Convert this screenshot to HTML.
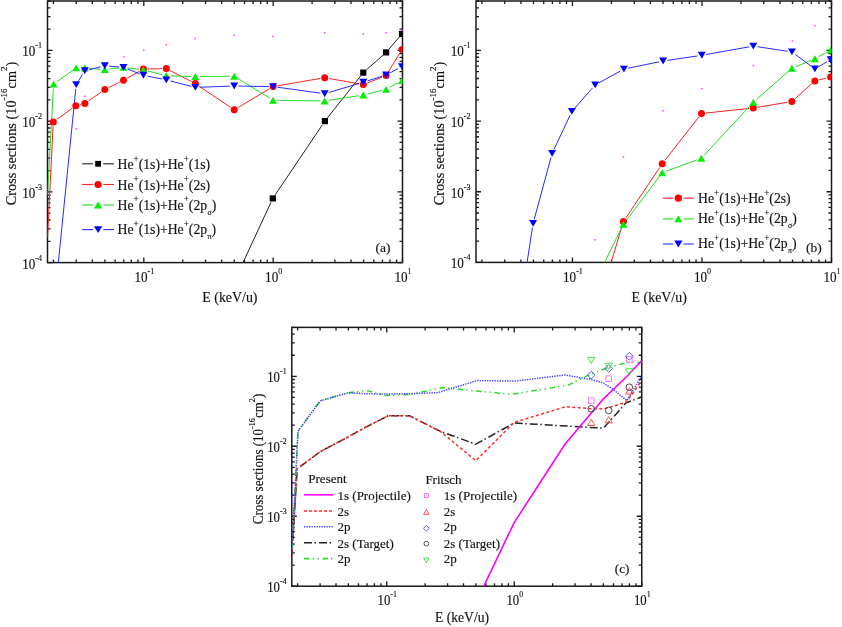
<!DOCTYPE html>
<html><head><meta charset="utf-8"><style>
html,body{margin:0;padding:0;background:#fff;width:842px;height:627px;overflow:hidden}
svg{display:block}
text{font-family:"Liberation Serif",serif;stroke:#111;stroke-width:0.15px}
svg{filter:blur(0.35px)}
</style></head><body>
<svg width="842" height="627" viewBox="0 0 842 627" font-family='"Liberation Serif", serif' fill="#111">
<rect width="842" height="627" fill="#fff"/>
<defs>
<clipPath id="ca"><rect x="47.5" y="1" width="355" height="261.6"/></clipPath>
<clipPath id="cb"><rect x="476" y="1" width="355.5" height="261.4"/></clipPath>
<clipPath id="cc"><rect x="291.8" y="327.4" width="349.95" height="258.8"/></clipPath>
</defs>
<rect x="47.5" y="1" width="355" height="261.6" fill="none" stroke="#1a1a1a" stroke-width="1.5"/>
<path d="M53.42 262.6v-3M53.42 1v3M76.19 262.6v-3M76.19 1v3M92.35 262.6v-3M92.35 1v3M104.89 262.6v-3M104.89 1v3M115.13 262.6v-3M115.13 1v3M123.79 262.6v-3M123.79 1v3M131.29 262.6v-3M131.29 1v3M137.9 262.6v-3M137.9 1v3M143.82 262.6v-5M143.82 1v5M182.76 262.6v-3M182.76 1v3M205.53 262.6v-3M205.53 1v3M221.69 262.6v-3M221.69 1v3M234.23 262.6v-3M234.23 1v3M244.47 262.6v-3M244.47 1v3M253.13 262.6v-3M253.13 1v3M260.63 262.6v-3M260.63 1v3M267.24 262.6v-3M267.24 1v3M273.16 262.6v-5M273.16 1v5M312.1 262.6v-3M312.1 1v3M334.87 262.6v-3M334.87 1v3M351.03 262.6v-3M351.03 1v3M363.57 262.6v-3M363.57 1v3M373.81 262.6v-3M373.81 1v3M382.47 262.6v-3M382.47 1v3M389.97 262.6v-3M389.97 1v3M396.58 262.6v-3M396.58 1v3M402.5 262.6v-5M402.5 1v5M47.5 262.6h5M402.5 262.6h-5M47.5 241.31h3M402.5 241.31h-3M47.5 228.86h3M402.5 228.86h-3M47.5 220.02h3M402.5 220.02h-3M47.5 213.17h3M402.5 213.17h-3M47.5 207.57h3M402.5 207.57h-3M47.5 202.83h3M402.5 202.83h-3M47.5 198.73h3M402.5 198.73h-3M47.5 195.11h3M402.5 195.11h-3M47.5 191.88h5M402.5 191.88h-5M47.5 170.59h3M402.5 170.59h-3M47.5 158.13h3M402.5 158.13h-3M47.5 149.3h3M402.5 149.3h-3M47.5 142.44h3M402.5 142.44h-3M47.5 136.84h3M402.5 136.84h-3M47.5 132.11h3M402.5 132.11h-3M47.5 128.01h3M402.5 128.01h-3M47.5 124.39h3M402.5 124.39h-3M47.5 121.16h5M402.5 121.16h-5M47.5 99.87h3M402.5 99.87h-3M47.5 87.41h3M402.5 87.41h-3M47.5 78.58h3M402.5 78.58h-3M47.5 71.72h3M402.5 71.72h-3M47.5 66.12h3M402.5 66.12h-3M47.5 61.39h3M402.5 61.39h-3M47.5 57.29h3M402.5 57.29h-3M47.5 53.67h3M402.5 53.67h-3M47.5 50.43h5M402.5 50.43h-5M47.5 29.14h3M402.5 29.14h-3M47.5 16.69h3M402.5 16.69h-3M47.5 7.85h3M402.5 7.85h-3M47.5 1h3M402.5 1h-3" stroke="#1a1a1a" stroke-width="1.3" fill="none"/>
<text transform="translate(144.32 282.1) scale(0.9 1)" text-anchor="middle" font-size="14.6">10<tspan font-size="9.0" dy="-8">-1</tspan></text>
<text transform="translate(273.66 282.1) scale(0.9 1)" text-anchor="middle" font-size="14.6">10<tspan font-size="9.0" dy="-8">0</tspan></text>
<text transform="translate(403 282.1) scale(0.9 1)" text-anchor="middle" font-size="14.6">10<tspan font-size="9.0" dy="-8">1</tspan></text>
<text transform="translate(42.1 268.6) scale(0.9 1)" text-anchor="end" font-size="14.6">10<tspan font-size="9.0" dy="-8">-4</tspan></text>
<text transform="translate(42.1 197.88) scale(0.9 1)" text-anchor="end" font-size="14.6">10<tspan font-size="9.0" dy="-8">-3</tspan></text>
<text transform="translate(42.1 127.16) scale(0.9 1)" text-anchor="end" font-size="14.6">10<tspan font-size="9.0" dy="-8">-2</tspan></text>
<text transform="translate(42.1 56.43) scale(0.9 1)" text-anchor="end" font-size="14.6">10<tspan font-size="9.0" dy="-8">-1</tspan></text>
<text x="229.9" y="302" text-anchor="middle" font-size="13.9">E (keV/u)</text>
<text transform="translate(15.6 133.5) rotate(-90) scale(1.0 1)" x="0" y="0" text-anchor="middle" font-size="14.3">Cross sections (10<tspan font-size="9.0" dy="-8.5">-16</tspan><tspan dy="8.5">cm</tspan><tspan font-size="9.0" dy="-8.5">2</tspan><tspan dy="8.5">)</tspan></text>
<rect x="75.5" y="128.2" width="1.6" height="1.6" fill="#ff33ff" opacity="0.85"/>
<rect x="83.9" y="95.5" width="1.6" height="1.6" fill="#ff33ff" opacity="0.85"/>
<rect x="123" y="55.9" width="1.6" height="1.6" fill="#ff33ff" opacity="0.85"/>
<rect x="142.9" y="49.3" width="1.6" height="1.6" fill="#ff33ff" opacity="0.85"/>
<rect x="165.5" y="44" width="1.6" height="1.6" fill="#ff33ff" opacity="0.85"/>
<rect x="194.4" y="37.7" width="1.6" height="1.6" fill="#ff33ff" opacity="0.85"/>
<rect x="233.4" y="34.4" width="1.6" height="1.6" fill="#ff33ff" opacity="0.85"/>
<rect x="272.3" y="35.6" width="1.6" height="1.6" fill="#ff33ff" opacity="0.85"/>
<rect x="323.9" y="32" width="1.6" height="1.6" fill="#ff33ff" opacity="0.85"/>
<rect x="362.5" y="33.2" width="1.6" height="1.6" fill="#ff33ff" opacity="0.85"/>
<rect x="385.3" y="32" width="1.6" height="1.6" fill="#ff33ff" opacity="0.85"/>
<rect x="401.2" y="29.6" width="1.6" height="1.6" fill="#ff33ff" opacity="0.85"/>
<path d="M234 282L270.99 202.3M275.2 194.83L322.5 124.67M327.57 117.73L360.63 75.97M366.52 69.75L382.88 55.25M388.91 49.15L399.19 37.25" fill="none" stroke="#222222" stroke-width="1.0" clip-path="url(#ca)"/>
<path d="M47.5 237L53.08 126.29M56.78 119.48L72.32 108.22M79.98 104.68L80.62 104.52M88.33 101.05L101.27 92.05M108.64 87.67L119.66 82.13M127.26 78.11L139.64 71.19M147.7 69.01L162 68.69M170.12 70.58L191.48 81.62M198.87 86L230.63 107.4M237.89 107.6L269.41 88.8M277.34 85.87L320.46 78.43M328.93 78.46L359.07 83.84M367.29 83.01L382.11 77.09M388.34 71.83L399.76 53.17" fill="none" stroke="#ff2020" stroke-width="1.0" clip-path="url(#ca)"/>
<path d="M47.5 195L53.36 88.39M57.09 81.59L72.71 70.41M80.5 67.95L80.5 67.95M89.09 68.34L100.51 69.26M109.07 69.1L119.23 67.9M127.77 67.94L139.13 69.36M147.57 70.96L162.13 74.64M170.6 75.83L191 76.47M199.6 76.56L229.9 76.24M237.86 78.46L269.44 97.94M277.4 100.27L320.4 100.93M328.95 100.34L359.05 95.66M367.48 93.97L381.92 90.43M389.86 87.32L398.24 82.68" fill="none" stroke="#22dd22" stroke-width="1.0" clip-path="url(#ca)"/>
<path d="M53.6 310L75.77 88.88M78.47 80.95L82.53 74.45M88.97 69.76L100.63 66.84M109.08 66.17L119.22 67.03M127.5 68.99L139.4 73.71M147.62 76.15L162.08 79.05M170.46 80.98L191.14 86.32M199.6 87.25L229.9 86.15M238.5 86.07L268.8 86.53M277.36 87.19L320.44 93.11M328.82 92.47L359.18 83.43M367.4 80.91L382 76.29M389.9 72.99L398.2 68.61" fill="none" stroke="#2a2aff" stroke-width="1.0" clip-path="url(#ca)"/>
<g clip-path="url(#ca)">
<rect x="269.7" y="195.3" width="6.2" height="6.2" fill="#000000"/>
<rect x="321.8" y="118" width="6.2" height="6.2" fill="#000000"/>
<rect x="360.2" y="69.5" width="6.2" height="6.2" fill="#000000"/>
<rect x="383" y="49.3" width="6.2" height="6.2" fill="#000000"/>
<rect x="398.9" y="30.9" width="6.2" height="6.2" fill="#000000"/>
<circle cx="53.3" cy="122" r="3.5" fill="#ff0000"/>
<circle cx="75.8" cy="105.7" r="3.5" fill="#ff0000"/>
<circle cx="84.8" cy="103.5" r="3.5" fill="#ff0000"/>
<circle cx="104.8" cy="89.6" r="3.5" fill="#ff0000"/>
<circle cx="123.5" cy="80.2" r="3.5" fill="#ff0000"/>
<circle cx="143.4" cy="69.1" r="3.5" fill="#ff0000"/>
<circle cx="166.3" cy="68.6" r="3.5" fill="#ff0000"/>
<circle cx="195.3" cy="83.6" r="3.5" fill="#ff0000"/>
<circle cx="234.2" cy="109.8" r="3.5" fill="#ff0000"/>
<circle cx="273.1" cy="86.6" r="3.5" fill="#ff0000"/>
<circle cx="324.7" cy="77.7" r="3.5" fill="#ff0000"/>
<circle cx="363.3" cy="84.6" r="3.5" fill="#ff0000"/>
<circle cx="386.1" cy="75.5" r="3.5" fill="#ff0000"/>
<circle cx="402" cy="49.5" r="3.5" fill="#ff0000"/>
<polygon points="53.6,80.65 57.6,87.55 49.6,87.55" fill="#00ee00"/>
<polygon points="76.2,64.45 80.2,71.35 72.2,71.35" fill="#00ee00"/>
<polygon points="84.8,64.55 88.8,71.45 80.8,71.45" fill="#00ee00"/>
<polygon points="104.8,66.15 108.8,73.05 100.8,73.05" fill="#00ee00"/>
<polygon points="123.5,63.95 127.5,70.85 119.5,70.85" fill="#00ee00"/>
<polygon points="143.4,66.45 147.4,73.35 139.4,73.35" fill="#00ee00"/>
<polygon points="166.3,72.25 170.3,79.15 162.3,79.15" fill="#00ee00"/>
<polygon points="195.3,73.15 199.3,80.05 191.3,80.05" fill="#00ee00"/>
<polygon points="234.2,72.75 238.2,79.65 230.2,79.65" fill="#00ee00"/>
<polygon points="273.1,96.75 277.1,103.65 269.1,103.65" fill="#00ee00"/>
<polygon points="324.7,97.55 328.7,104.45 320.7,104.45" fill="#00ee00"/>
<polygon points="363.3,91.55 367.3,98.45 359.3,98.45" fill="#00ee00"/>
<polygon points="386.1,85.95 390.1,92.85 382.1,92.85" fill="#00ee00"/>
<polygon points="402,77.15 406,84.05 398,84.05" fill="#00ee00"/>
<polygon points="76.2,88.05 80.2,81.15 72.2,81.15" fill="#0000ff"/>
<polygon points="84.8,74.25 88.8,67.35 80.8,67.35" fill="#0000ff"/>
<polygon points="104.8,69.25 108.8,62.35 100.8,62.35" fill="#0000ff"/>
<polygon points="123.5,70.85 127.5,63.95 119.5,63.95" fill="#0000ff"/>
<polygon points="143.4,78.75 147.4,71.85 139.4,71.85" fill="#0000ff"/>
<polygon points="166.3,83.35 170.3,76.45 162.3,76.45" fill="#0000ff"/>
<polygon points="195.3,90.85 199.3,83.95 191.3,83.95" fill="#0000ff"/>
<polygon points="234.2,89.45 238.2,82.55 230.2,82.55" fill="#0000ff"/>
<polygon points="273.1,90.05 277.1,83.15 269.1,83.15" fill="#0000ff"/>
<polygon points="324.7,97.15 328.7,90.25 320.7,90.25" fill="#0000ff"/>
<polygon points="363.3,85.65 367.3,78.75 359.3,78.75" fill="#0000ff"/>
<polygon points="386.1,78.45 390.1,71.55 382.1,71.55" fill="#0000ff"/>
<polygon points="402,70.05 406,63.15 398,63.15" fill="#0000ff"/>
</g>
<path d="M82.2 163.8H114" stroke="#222222" stroke-width="1.1"/>
<rect x="92.9" y="159.8" width="10.4" height="8" fill="#fff"/>
<rect x="95.2" y="160.9" width="5.8" height="5.8" fill="#000000"/>
<text transform="translate(117.5 169.2) scale(0.96 1)" font-size="14.3">He<tspan font-size="9.5" dy="-7.5">+</tspan><tspan dy="7.5">(1s)+He</tspan><tspan font-size="9.5" dy="-7.5">+</tspan><tspan dy="7.5">(1s)</tspan></text>
<path d="M82.2 184.5H114" stroke="#ff2020" stroke-width="1.1"/>
<rect x="92.9" y="180.5" width="10.4" height="8" fill="#fff"/>
<circle cx="98.1" cy="184.5" r="3.6" fill="#ff0000"/>
<text transform="translate(117.5 189.7) scale(0.96 1)" font-size="14.3">He<tspan font-size="9.5" dy="-7.5">+</tspan><tspan dy="7.5">(1s)+He</tspan><tspan font-size="9.5" dy="-7.5">+</tspan><tspan dy="7.5">(2s)</tspan></text>
<path d="M82.2 205H114" stroke="#22dd22" stroke-width="1.1"/>
<rect x="92.9" y="201" width="10.4" height="8" fill="#fff"/>
<polygon points="98.1,201.6 102.3,208.4 93.9,208.4" fill="#00ee00"/>
<text transform="translate(117.5 209.8) scale(0.96 1)" font-size="14.3">He<tspan font-size="9.5" dy="-7.5">+</tspan><tspan dy="7.5">(1s)+He</tspan><tspan font-size="9.5" dy="-7.5">+</tspan><tspan dy="7.5">(2p</tspan><tspan font-size="8.2" dx="0.5" dy="5">σ</tspan><tspan dy="-5">)</tspan></text>
<path d="M82.2 229.6H114" stroke="#2a2aff" stroke-width="1.1"/>
<rect x="92.9" y="225.6" width="10.4" height="8" fill="#fff"/>
<polygon points="98.1,233 102.3,226.2 93.9,226.2" fill="#0000ff"/>
<text transform="translate(117.5 234) scale(0.96 1)" font-size="14.3">He<tspan font-size="9.5" dy="-7.5">+</tspan><tspan dy="7.5">(1s)+He</tspan><tspan font-size="9.5" dy="-7.5">+</tspan><tspan dy="7.5">(2p</tspan><tspan font-size="8.2" dx="0.5" dy="5">π</tspan><tspan dy="-5">)</tspan></text>
<text x="375.4" y="252.3" font-size="13.5">(a)</text>
<rect x="476" y="1" width="355.5" height="261.4" fill="none" stroke="#1a1a1a" stroke-width="1.5"/>
<path d="M481.93 262.4v-3M481.93 1v3M504.73 262.4v-3M504.73 1v3M520.92 262.4v-3M520.92 1v3M533.47 262.4v-3M533.47 1v3M543.72 262.4v-3M543.72 1v3M552.39 262.4v-3M552.39 1v3M559.91 262.4v-3M559.91 1v3M566.53 262.4v-3M566.53 1v3M572.46 262.4v-5M572.46 1v5M611.45 262.4v-3M611.45 1v3M634.26 262.4v-3M634.26 1v3M650.44 262.4v-3M650.44 1v3M662.99 262.4v-3M662.99 1v3M673.24 262.4v-3M673.24 1v3M681.92 262.4v-3M681.92 1v3M689.43 262.4v-3M689.43 1v3M696.05 262.4v-3M696.05 1v3M701.98 262.4v-5M701.98 1v5M740.97 262.4v-3M740.97 1v3M763.78 262.4v-3M763.78 1v3M779.96 262.4v-3M779.96 1v3M792.51 262.4v-3M792.51 1v3M802.77 262.4v-3M802.77 1v3M811.44 262.4v-3M811.44 1v3M818.95 262.4v-3M818.95 1v3M825.57 262.4v-3M825.57 1v3M831.5 262.4v-5M831.5 1v5M476 262.4h5M831.5 262.4h-5M476 241.13h3M831.5 241.13h-3M476 228.68h3M831.5 228.68h-3M476 219.85h3M831.5 219.85h-3M476 213h3M831.5 213h-3M476 207.41h3M831.5 207.41h-3M476 202.68h3M831.5 202.68h-3M476 198.58h3M831.5 198.58h-3M476 194.97h3M831.5 194.97h-3M476 191.73h5M831.5 191.73h-5M476 170.46h3M831.5 170.46h-3M476 158.01h3M831.5 158.01h-3M476 149.19h3M831.5 149.19h-3M476 142.34h3M831.5 142.34h-3M476 136.74h3M831.5 136.74h-3M476 132.01h3M831.5 132.01h-3M476 127.91h3M831.5 127.91h-3M476 124.3h3M831.5 124.3h-3M476 121.06h5M831.5 121.06h-5M476 99.79h3M831.5 99.79h-3M476 87.35h3M831.5 87.35h-3M476 78.52h3M831.5 78.52h-3M476 71.67h3M831.5 71.67h-3M476 66.07h3M831.5 66.07h-3M476 61.34h3M831.5 61.34h-3M476 57.24h3M831.5 57.24h-3M476 53.63h3M831.5 53.63h-3M476 50.4h5M831.5 50.4h-5M476 29.12h3M831.5 29.12h-3M476 16.68h3M831.5 16.68h-3M476 7.85h3M831.5 7.85h-3M476 1h3M831.5 1h-3" stroke="#1a1a1a" stroke-width="1.3" fill="none"/>
<text transform="translate(572.96 281.9) scale(0.9 1)" text-anchor="middle" font-size="14.6">10<tspan font-size="9.0" dy="-8">-1</tspan></text>
<text transform="translate(702.48 281.9) scale(0.9 1)" text-anchor="middle" font-size="14.6">10<tspan font-size="9.0" dy="-8">0</tspan></text>
<text transform="translate(832 281.9) scale(0.9 1)" text-anchor="middle" font-size="14.6">10<tspan font-size="9.0" dy="-8">1</tspan></text>
<text transform="translate(470.6 268.4) scale(0.9 1)" text-anchor="end" font-size="14.6">10<tspan font-size="9.0" dy="-8">-4</tspan></text>
<text transform="translate(470.6 197.73) scale(0.9 1)" text-anchor="end" font-size="14.6">10<tspan font-size="9.0" dy="-8">-3</tspan></text>
<text transform="translate(470.6 127.06) scale(0.9 1)" text-anchor="end" font-size="14.6">10<tspan font-size="9.0" dy="-8">-2</tspan></text>
<text transform="translate(470.6 56.4) scale(0.9 1)" text-anchor="end" font-size="14.6">10<tspan font-size="9.0" dy="-8">-1</tspan></text>
<text x="659.2" y="302" text-anchor="middle" font-size="13.9">E (keV/u)</text>
<text transform="translate(444.1 133.5) rotate(-90) scale(1.0 1)" x="0" y="0" text-anchor="middle" font-size="14.3">Cross sections (10<tspan font-size="9.0" dy="-8.5">-16</tspan><tspan dy="8.5">cm</tspan><tspan font-size="9.0" dy="-8.5">2</tspan><tspan dy="8.5">)</tspan></text>
<rect x="594.2" y="238.9" width="1.6" height="1.6" fill="#ff33ff" opacity="0.85"/>
<rect x="622.6" y="156.4" width="1.6" height="1.6" fill="#ff33ff" opacity="0.85"/>
<rect x="662" y="110" width="1.6" height="1.6" fill="#ff33ff" opacity="0.85"/>
<rect x="701" y="87.9" width="1.6" height="1.6" fill="#ff33ff" opacity="0.85"/>
<rect x="752.5" y="64.7" width="1.6" height="1.6" fill="#ff33ff" opacity="0.85"/>
<rect x="791.6" y="40.3" width="1.6" height="1.6" fill="#ff33ff" opacity="0.85"/>
<rect x="814.1" y="25" width="1.6" height="1.6" fill="#ff33ff" opacity="0.85"/>
<path d="M599 303L622.17 225.62M625.8 217.93L659.8 167.37M664.85 160.41L698.85 116.89M705.78 113.05L749.02 108.45M757.54 107.29L787.66 102.21M795.1 98.63L811.7 83.77M819.07 79.86L826.43 78.04" fill="none" stroke="#ff2020" stroke-width="1.0" clip-path="url(#cb)"/>
<path d="M584.5 303L621.49 228.15M625.98 220.86L659.62 176.14M666.24 171.21L697.26 159.79M704.23 155.15L750.37 105.45M756.53 99.46L788.67 71.14M795.87 66.64L810.93 60.36M818.66 56.62L826.84 52.08" fill="none" stroke="#22dd22" stroke-width="1.0" clip-path="url(#cb)"/>
<path d="M521 302L532.45 227.65M534.23 219.25L550.97 157.55M553.93 149.51L570.07 115.29M574.74 108.17L592.36 88.13M598.97 82.83L620.13 71.17M628.11 68.23L658.89 61.87M667.35 60.37L697.55 55.93M706.03 54.54L749.07 46.86M757.55 46.74L787.65 51.26M795.36 54.46L811.44 66.34M818.61 66.73L826.89 61.87" fill="none" stroke="#2a2aff" stroke-width="1.0" clip-path="url(#cb)"/>
<g clip-path="url(#cb)">
<circle cx="623.4" cy="221.5" r="3.5" fill="#ff0000"/>
<circle cx="662.2" cy="163.8" r="3.5" fill="#ff0000"/>
<circle cx="701.5" cy="113.5" r="3.5" fill="#ff0000"/>
<circle cx="753.3" cy="108" r="3.5" fill="#ff0000"/>
<circle cx="791.9" cy="101.5" r="3.5" fill="#ff0000"/>
<circle cx="814.9" cy="80.9" r="3.5" fill="#ff0000"/>
<circle cx="830.6" cy="77" r="3.5" fill="#ff0000"/>
<polygon points="623.4,220.85 627.4,227.75 619.4,227.75" fill="#00ee00"/>
<polygon points="662.2,169.25 666.2,176.15 658.2,176.15" fill="#00ee00"/>
<polygon points="701.3,154.85 705.3,161.75 697.3,161.75" fill="#00ee00"/>
<polygon points="753.3,98.85 757.3,105.75 749.3,105.75" fill="#00ee00"/>
<polygon points="791.9,64.85 795.9,71.75 787.9,71.75" fill="#00ee00"/>
<polygon points="814.9,55.25 818.9,62.15 810.9,62.15" fill="#00ee00"/>
<polygon points="830.6,46.55 834.6,53.45 826.6,53.45" fill="#00ee00"/>
<polygon points="533.1,226.85 537.1,219.95 529.1,219.95" fill="#0000ff"/>
<polygon points="552.1,156.85 556.1,149.95 548.1,149.95" fill="#0000ff"/>
<polygon points="571.9,114.85 575.9,107.95 567.9,107.95" fill="#0000ff"/>
<polygon points="595.2,88.35 599.2,81.45 591.2,81.45" fill="#0000ff"/>
<polygon points="623.9,72.55 627.9,65.65 619.9,65.65" fill="#0000ff"/>
<polygon points="663.1,64.45 667.1,57.55 659.1,57.55" fill="#0000ff"/>
<polygon points="701.8,58.75 705.8,51.85 697.8,51.85" fill="#0000ff"/>
<polygon points="753.3,49.55 757.3,42.65 749.3,42.65" fill="#0000ff"/>
<polygon points="791.9,55.35 795.9,48.45 787.9,48.45" fill="#0000ff"/>
<polygon points="814.9,72.35 818.9,65.45 810.9,65.45" fill="#0000ff"/>
<polygon points="830.6,63.15 834.6,56.25 826.6,56.25" fill="#0000ff"/>
</g>
<path d="M662.8 198.2H693.9" stroke="#ff2020" stroke-width="1.1"/>
<rect x="673.15" y="194.2" width="10.4" height="8" fill="#fff"/>
<circle cx="678.35" cy="198.2" r="3.6" fill="#ff0000"/>
<text transform="translate(698 203.3) scale(0.96 1)" font-size="14.3">He<tspan font-size="9.5" dy="-7.5">+</tspan><tspan dy="7.5">(1s)+He</tspan><tspan font-size="9.5" dy="-7.5">+</tspan><tspan dy="7.5">(2s)</tspan></text>
<path d="M662.8 218.9H693.9" stroke="#22dd22" stroke-width="1.1"/>
<rect x="673.15" y="214.9" width="10.4" height="8" fill="#fff"/>
<polygon points="678.35,215.5 682.55,222.3 674.15,222.3" fill="#00ee00"/>
<text transform="translate(698 223.3) scale(0.96 1)" font-size="14.3">He<tspan font-size="9.5" dy="-7.5">+</tspan><tspan dy="7.5">(1s)+He</tspan><tspan font-size="9.5" dy="-7.5">+</tspan><tspan dy="7.5">(2p</tspan><tspan font-size="8.2" dx="0.5" dy="5">σ</tspan><tspan dy="-5">)</tspan></text>
<path d="M662.8 244H693.9" stroke="#2a2aff" stroke-width="1.1"/>
<rect x="673.15" y="240" width="10.4" height="8" fill="#fff"/>
<polygon points="678.35,247.4 682.55,240.6 674.15,240.6" fill="#0000ff"/>
<text transform="translate(698 248) scale(0.96 1)" font-size="14.3">He<tspan font-size="9.5" dy="-7.5">+</tspan><tspan dy="7.5">(1s)+He</tspan><tspan font-size="9.5" dy="-7.5">+</tspan><tspan dy="7.5">(2p</tspan><tspan font-size="8.2" dx="0.5" dy="5">π</tspan><tspan dy="-5">)</tspan></text>
<text x="806" y="252.2" font-size="13.5">(b)</text>
<rect x="291.8" y="327.4" width="349.95" height="258.8" fill="none" stroke="#1a1a1a" stroke-width="1.5"/>
<path d="M297.63 586.2v-3M297.63 327.4v3M320.09 586.2v-3M320.09 327.4v3M336.02 586.2v-3M336.02 327.4v3M348.37 586.2v-3M348.37 327.4v3M358.47 586.2v-3M358.47 327.4v3M367 586.2v-3M367 327.4v3M374.4 586.2v-3M374.4 327.4v3M380.92 586.2v-3M380.92 327.4v3M386.75 586.2v-5M386.75 327.4v5M425.13 586.2v-3M425.13 327.4v3M447.58 586.2v-3M447.58 327.4v3M463.51 586.2v-3M463.51 327.4v3M475.87 586.2v-3M475.87 327.4v3M485.97 586.2v-3M485.97 327.4v3M494.5 586.2v-3M494.5 327.4v3M501.9 586.2v-3M501.9 327.4v3M508.42 586.2v-3M508.42 327.4v3M514.25 586.2v-5M514.25 327.4v5M552.63 586.2v-3M552.63 327.4v3M575.08 586.2v-3M575.08 327.4v3M591.01 586.2v-3M591.01 327.4v3M603.37 586.2v-3M603.37 327.4v3M613.46 586.2v-3M613.46 327.4v3M622 586.2v-3M622 327.4v3M629.39 586.2v-3M629.39 327.4v3M635.92 586.2v-3M635.92 327.4v3M641.75 586.2v-5M641.75 327.4v5M291.8 586.2h5M641.75 586.2h-5M291.8 565.14h3M641.75 565.14h-3M291.8 552.82h3M641.75 552.82h-3M291.8 544.08h3M641.75 544.08h-3M291.8 537.3h3M641.75 537.3h-3M291.8 531.76h3M641.75 531.76h-3M291.8 527.07h3M641.75 527.07h-3M291.8 523.01h3M641.75 523.01h-3M291.8 519.44h3M641.75 519.44h-3M291.8 516.23h5M641.75 516.23h-5M291.8 495.17h3M641.75 495.17h-3M291.8 482.85h3M641.75 482.85h-3M291.8 474.11h3M641.75 474.11h-3M291.8 467.33h3M641.75 467.33h-3M291.8 461.79h3M641.75 461.79h-3M291.8 457.11h3M641.75 457.11h-3M291.8 453.05h3M641.75 453.05h-3M291.8 449.47h3M641.75 449.47h-3M291.8 446.27h5M641.75 446.27h-5M291.8 425.21h3M641.75 425.21h-3M291.8 412.89h3M641.75 412.89h-3M291.8 404.15h3M641.75 404.15h-3M291.8 397.37h3M641.75 397.37h-3M291.8 391.83h3M641.75 391.83h-3M291.8 387.14h3M641.75 387.14h-3M291.8 383.08h3M641.75 383.08h-3M291.8 379.51h3M641.75 379.51h-3M291.8 376.3h5M641.75 376.3h-5M291.8 355.24h3M641.75 355.24h-3M291.8 342.92h3M641.75 342.92h-3M291.8 334.18h3M641.75 334.18h-3M291.8 327.4h3M641.75 327.4h-3" stroke="#1a1a1a" stroke-width="1.3" fill="none"/>
<text transform="translate(387.25 604.8) scale(0.9 1)" text-anchor="middle" font-size="14.2">10<tspan font-size="8.8" dy="-7.4">-1</tspan></text>
<text transform="translate(514.75 604.8) scale(0.9 1)" text-anchor="middle" font-size="14.2">10<tspan font-size="8.8" dy="-7.4">0</tspan></text>
<text transform="translate(642.25 604.8) scale(0.9 1)" text-anchor="middle" font-size="14.2">10<tspan font-size="8.8" dy="-7.4">1</tspan></text>
<text transform="translate(286.6 591.5) scale(0.9 1)" text-anchor="end" font-size="14.2">10<tspan font-size="8.8" dy="-7.4">-4</tspan></text>
<text transform="translate(286.6 521.53) scale(0.9 1)" text-anchor="end" font-size="14.2">10<tspan font-size="8.8" dy="-7.4">-3</tspan></text>
<text transform="translate(286.6 451.57) scale(0.9 1)" text-anchor="end" font-size="14.2">10<tspan font-size="8.8" dy="-7.4">-2</tspan></text>
<text transform="translate(286.6 381.6) scale(0.9 1)" text-anchor="end" font-size="14.2">10<tspan font-size="8.8" dy="-7.4">-1</tspan></text>
<text x="462" y="622.2" text-anchor="middle" font-size="13.6">E (keV/u)</text>
<text transform="translate(262.7 459) rotate(-90) scale(0.93 1)" x="0" y="0" text-anchor="middle" font-size="14.0">Cross sections (10<tspan font-size="8.8" dy="-8">-16</tspan><tspan dy="8">cm</tspan><tspan font-size="8.8" dy="-8">2</tspan><tspan dy="8">)</tspan></text>
<polyline points="289.1,600 297.2,468.9 320.1,451.8 345.5,438.4 366.4,426.8 388.3,415.7 409.2,415.7 440.4,431.4 475.8,444.2 514.2,423 603.5,428.2 625.8,403 641.6,397" fill="none" stroke="#222" stroke-width="1.5" stroke-linejoin="round" stroke-dasharray="8,2.5,1.5,3" clip-path="url(#cc)"/>
<polyline points="289.1,600 297.2,468.9 320.1,451.8 345.5,438.4 366.4,426.8 388.3,415.7 409.2,415.7 440.4,431.4 475.8,460.7 514.2,422.4 566,406.6 591.2,408.8 604.3,408.8 625.8,402.5 632.2,394.2 641.6,380.6" fill="none" stroke="#ff2a2a" stroke-width="1.5" stroke-linejoin="round" stroke-dasharray="3,2.4" clip-path="url(#cc)"/>
<polyline points="290.2,586 298,431.2 320.2,400.9 347.8,392.8 366.4,390.5 384.9,395.6 410.3,394.4 442.7,387.5 476,391 511.9,394.2 568.3,385.1 586.4,376.1 608.9,367.1 629.2,362.2 641.6,362.6" fill="none" stroke="#22dd22" stroke-width="1.5" stroke-linejoin="round" stroke-dasharray="5.5,3,1.3,3.7,1.3,3.7" clip-path="url(#cc)"/>
<polyline points="290.2,586 298,431.2 320.2,400.9 347.8,392.8 367.3,393.8 384.9,394 410.3,393.7 438.1,392.6 476.9,380.6 515.3,381.1 564.9,375 591.2,379.5 603.5,383 613,389.4 626.8,400.5 641.6,376.1" fill="none" stroke="#4040ff" stroke-width="1.5" stroke-linejoin="round" stroke-dasharray="1.3,1.2" clip-path="url(#cc)"/>
<polyline points="467.6,620 514.2,522.6 565.1,444 603.4,398.8 625.8,377.5 641.6,360.7" fill="none" stroke="#ff00ff" stroke-width="1.6" stroke-linejoin="round" clip-path="url(#cc)"/>
<rect x="588.4" y="397.8" width="5.6" height="5.6" fill="none" stroke="#ff66ff" stroke-width="0.9"/>
<rect x="605.9" y="375.9" width="5.6" height="5.6" fill="none" stroke="#ff66ff" stroke-width="0.9"/>
<rect x="626.5" y="356.6" width="5.6" height="5.6" fill="none" stroke="#ff66ff" stroke-width="0.9"/>
<polygon points="591.2,419.3 594.9,425.5 587.5,425.5" fill="none" stroke="#ff4040" stroke-width="0.9" stroke-linejoin="miter"/>
<polygon points="608.7,416.6 612.4,422.8 605,422.8" fill="none" stroke="#ff4040" stroke-width="0.9" stroke-linejoin="miter"/>
<polygon points="629.3,387.9 633,394.1 625.6,394.1" fill="none" stroke="#ff4040" stroke-width="0.9" stroke-linejoin="miter"/>
<polygon points="591.2,371.2 595.1,375.1 591.2,379 587.3,375.1" fill="none" stroke="#4a4aff" stroke-width="0.9"/>
<polygon points="608.7,364.5 612.6,368.4 608.7,372.3 604.8,368.4" fill="none" stroke="#4a4aff" stroke-width="0.9"/>
<polygon points="629.3,352.4 633.2,356.3 629.3,360.2 625.4,356.3" fill="none" stroke="#4a4aff" stroke-width="0.9"/>
<circle cx="591.2" cy="408.8" r="3.3" fill="none" stroke="#333" stroke-width="0.9"/>
<circle cx="608.7" cy="410.4" r="3.3" fill="none" stroke="#333" stroke-width="0.9"/>
<circle cx="629.3" cy="387.2" r="3.3" fill="none" stroke="#333" stroke-width="0.9"/>
<polygon points="591.2,363.5 594.9,357.3 587.5,357.3" fill="none" stroke="#33dd33" stroke-width="0.9" stroke-linejoin="miter"/>
<polygon points="608.7,369.4 612.4,363.2 605,363.2" fill="none" stroke="#33dd33" stroke-width="0.9" stroke-linejoin="miter"/>
<polygon points="629.3,375 633,368.8 625.6,368.8" fill="none" stroke="#33dd33" stroke-width="0.9" stroke-linejoin="miter"/>
<text x="308.3" y="483.3" font-size="13">Present</text>
<text x="425.4" y="483.9" font-size="13">Fritsch</text>
<path d="M304 494.8H333.6" stroke="#ff00ff" stroke-width="1.6"/>
<text x="337.5" y="499.6" font-size="13">1s (Projectile)</text>
<text x="443.8" y="499.6" font-size="13">1s (Projectile)</text>
<path d="M304 511H333.6" stroke="#ff2a2a" stroke-width="1.6" stroke-dasharray="3,2"/>
<text x="337.5" y="515.6" font-size="13">2s</text>
<text x="443.8" y="515.6" font-size="13">2s</text>
<path d="M304 526.8H333.6" stroke="#4040ff" stroke-width="1.6" stroke-dasharray="1.3,1.2"/>
<text x="337.5" y="531.2" font-size="13">2p</text>
<text x="443.8" y="531.2" font-size="13">2p</text>
<path d="M304 542.8H333.6" stroke="#222" stroke-width="1.6" stroke-dasharray="8,2.5,1.5,3"/>
<text x="337.5" y="547.6" font-size="13">2s (Target)</text>
<text x="443.8" y="547.6" font-size="13">2s (Target)</text>
<path d="M304 558.6H333.6" stroke="#22dd22" stroke-width="1.6" stroke-dasharray="5.5,3,1.3,3.7,1.3,3.7"/>
<text x="337.5" y="563.2" font-size="13">2p</text>
<text x="443.8" y="563.2" font-size="13">2p</text>
<rect x="424.4" y="493.6" width="4" height="4" fill="none" stroke="#ff66ff" stroke-width="0.9"/>
<polygon points="426.4,509.5 429.2,514.3 423.6,514.3" fill="none" stroke="#ff4040" stroke-width="0.9" stroke-linejoin="miter"/>
<polygon points="426.4,525.4 429.3,528.3 426.4,531.2 423.5,528.3" fill="none" stroke="#4a4aff" stroke-width="0.9"/>
<circle cx="426.4" cy="543.7" r="2.4" fill="none" stroke="#444" stroke-width="0.9"/>
<polygon points="426.4,562.8 429.2,558 423.6,558" fill="none" stroke="#33dd33" stroke-width="0.9" stroke-linejoin="miter"/>
<text x="614.8" y="573.0" font-size="13">(c)</text>
</svg>
</body></html>
